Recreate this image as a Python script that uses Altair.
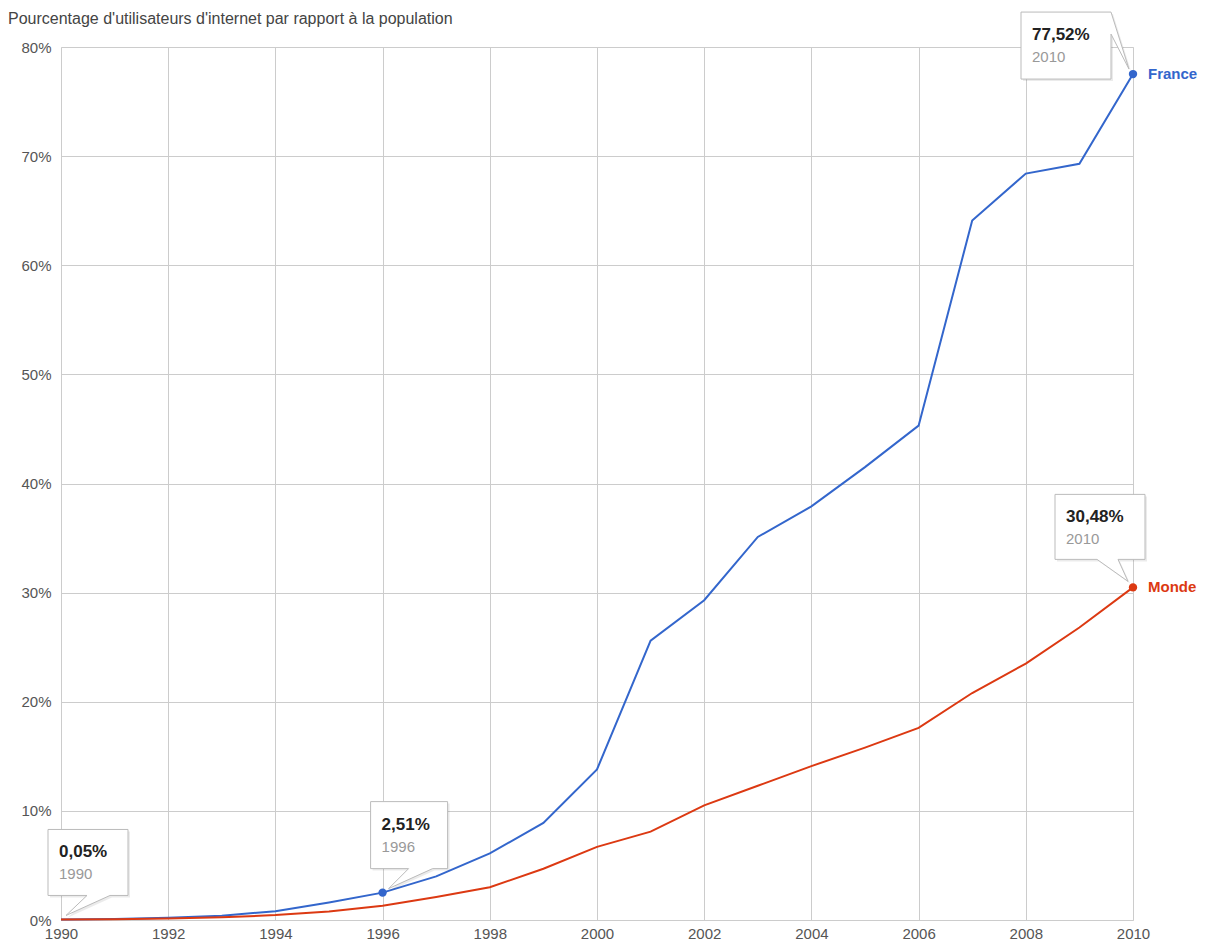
import altair as alt
import pandas as pd

years = list(range(1990, 2011))
france = [0.05, 0.1, 0.2, 0.4, 0.8, 1.6, 2.51, 4.0, 6.1, 8.9, 13.8, 25.6, 29.3,
          35.1, 37.9, 41.5, 45.3, 64.1, 68.4, 69.3, 77.52]
monde = [0.05, 0.08, 0.14, 0.25, 0.45, 0.78, 1.3, 2.1, 3.0, 4.7, 6.7, 8.1, 10.5,
         12.3, 14.1, 15.8, 17.6, 20.8, 23.5, 26.8, 30.48]
series_names = ["France", "Monde"]
series_colors = ["#3366cc", "#dc3912"]
x_ticks = list(range(1990, 2011, 2))
y_ticks = list(range(0, 81, 10))
title_text = "Pourcentage d'utilisateurs d'internet par rapport à la population"

FONT = "Liberation Sans"

df = pd.DataFrame(
    [{"year": y, "value": v, "series": "France"} for y, v in zip(years, france)]
    + [{"year": y, "value": v, "series": "Monde"} for y, v in zip(years, monde)]
)

xscale = alt.Scale(domain=[1990, 2010], nice=False, zero=False)
yscale = alt.Scale(domain=[0, 80], nice=False)
cscale = alt.Scale(domain=series_names, range=series_colors)

lines = alt.Chart(df).mark_line(strokeWidth=2).encode(
    x=alt.X("year:Q", scale=xscale, title=None,
            axis=alt.Axis(values=x_ticks, format="d", grid=True, gridColor="#cccccc",
                          domain=False, ticks=False, labelPadding=6, labelFontSize=15,
                          labelColor="#555555", labelFont=FONT, labelFlush=False)),
    y=alt.Y("value:Q", scale=yscale, title=None,
            axis=alt.Axis(values=y_ticks, labelExpr="datum.value + '%'", grid=True,
                          gridColor="#cccccc", domain=False, ticks=False, labelPadding=10,
                          labelFontSize=15, labelColor="#555555", labelFont=FONT)),
    color=alt.Color("series:N", scale=cscale, legend=None),
)


def fmt(v):
    return f"{v:.2f}".replace(".", ",") + "%"


def callout(series, year, value, path, left, top):
    d = pd.DataFrame([{"year": year, "value": value, "series": series,
                       "num": fmt(value), "yl": str(year)}])
    base = alt.Chart(d).encode(x=alt.X("year:Q", scale=xscale),
                               y=alt.Y("value:Q", scale=yscale))
    shadow = base.mark_point(shape=path, size=4, filled=True, fill="#000000",
                             fillOpacity=0.08, strokeOpacity=0, opacity=1,
                             xOffset=2, yOffset=2)
    box = base.mark_point(shape=path, size=4, filled=True, fill="white",
                          stroke="#bbbbbb", strokeWidth=1, opacity=1,
                          fillOpacity=1, strokeOpacity=1)
    num = base.mark_text(align="left", baseline="middle", dx=left + 11, dy=top + 23,
                         font=FONT, fontSize=17, fontWeight="bold",
                         color="#222222").encode(text="num:N")
    yr = base.mark_text(align="left", baseline="middle", dx=left + 11, dy=top + 45,
                        font=FONT, fontSize=15, color="#999999").encode(text="yl:N")
    return [shadow, box, num, yr]


layers = [lines]
layers += callout("France", 1990, france[0],
                  "M-13,-90 L67,-90 L67,-24 L49,-24 L5,-4 L26,-24 L-13,-24 Z", -13, -90)
layers += callout("France", 1996, france[6],
                  "M-12,-91 L65,-91 L65,-24 L50,-24 L6,-4 L26,-24 L-12,-24 Z", -12, -91)
layers += callout("France", 2010, france[-1],
                  "M-112,-62 L-22,-62 L-4,-5 L-22,-40 L-22,5 L-112,5 Z", -112, -62)
layers += callout("Monde", 2010, monde[-1],
                  "M-78,-93 L12,-93 L12,-28 L-15,-28 L-5,-6 L-36,-28 L-78,-28 Z", -78, -93)

pts = pd.DataFrame([
    {"year": 1996, "value": france[6], "series": "France"},
    {"year": 2010, "value": france[-1], "series": "France"},
    {"year": 2010, "value": monde[-1], "series": "Monde"},
])
dots = alt.Chart(pts).mark_circle(size=70, opacity=1).encode(
    x=alt.X("year:Q", scale=xscale), y=alt.Y("value:Q", scale=yscale),
    color=alt.Color("series:N", scale=cscale, legend=None),
)
layers.append(dots)

ends = pd.DataFrame([
    {"year": 2010, "value": france[-1], "series": "France"},
    {"year": 2010, "value": monde[-1], "series": "Monde"},
])
end_labels = alt.Chart(ends).mark_text(align="left", baseline="middle", dx=15,
                                       font=FONT, fontSize=15, fontWeight="bold").encode(
    x=alt.X("year:Q", scale=xscale), y=alt.Y("value:Q", scale=yscale),
    text="series:N",
    color=alt.Color("series:N", scale=cscale, legend=None),
)
layers.append(end_labels)

title_mark = alt.Chart(pd.DataFrame({"t": [title_text]})).mark_text(
    align="left", baseline="alphabetic", font=FONT, fontSize=16, color="#444444"
).encode(x=alt.value(-53), y=alt.value(-23), text="t:N")
layers.append(title_mark)

chart = alt.layer(*layers).properties(
    width=1072, height=873,
    padding={"left": 53, "top": 39, "right": 65, "bottom": 22},
    autosize=alt.AutoSizeParams(type="none"),
).configure_view(stroke=None).configure(background="white")

chart.save("out.html", embed_options={"renderer": "svg", "actions": False})
